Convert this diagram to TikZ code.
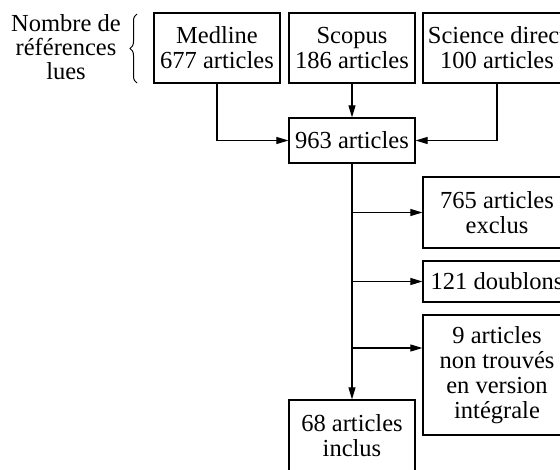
\documentclass[tikz,border=0pt]{standalone}
\usepackage{fontspec}
\setmainfont{Liberation Serif}
\usetikzlibrary{arrows.meta,decorations.pathreplacing}
\begin{document}
\begin{tikzpicture}[x=1pt,y=-1pt,
  box/.style={draw,line width=1.2pt,rectangle,inner sep=0pt,align=center,
    font=\fontsize{24.5}{25}\selectfont},
  arr/.style={line width=1.1pt,-{Triangle[length=12pt,width=7pt]}},
  ln/.style={line width=1.1pt}]
\useasboundingbox (0,0) rectangle (560,469);
\begin{scope}
\clip (0,0) rectangle (560,469);
\node[box,minimum width=126pt,minimum height=70pt] (medline) at (217,48) {Medline\\677 articles};
\node[box,minimum width=126pt,minimum height=70pt] (scopus) at (352,48) {Scopus\\186 articles};
\node[box,minimum width=148pt,minimum height=70pt] (science) at (497,48) {Science direct\\100 articles};
\node[box,minimum width=126pt,minimum height=45pt] (total) at (352,140.5) {963 articles};
\node[box,minimum width=148pt,minimum height=71pt] (excl) at (497,212.5) {765 articles\\exclus};
\node[box,minimum width=148pt,minimum height=41pt] (doub) at (497,281.5) {121 doublons};
\node[box,minimum width=148pt,minimum height=120pt] (nontr) at (497,375) {9 articles\\non trouvés\\en version\\intégrale};
\node[box,minimum width=126pt,minimum height=72pt] (incl) at (352,436) {68 articles\\inclus};
\node[align=center,font=\fontsize{24.5}{24}\selectfont] (label) at (66,47) {Nombre de\\références\\lues};
\draw[line width=1pt,decorate,decoration={brace,amplitude=7pt}] (137,83) -- (137,14);
\draw[arr] (medline.south) |- (total.west);
\draw[arr] (science.south) |- (total.east);
\draw[arr] (scopus.south) -- (total.north);
\draw[arr] (total.south) -- (incl.north);
\draw[arr] (total.south |- excl.west) -- (excl.west);
\draw[arr] (total.south |- doub.west) -- (doub.west);
\draw[arr] (total.south |- 0,348) -- (nontr.west |- 0,348);
\end{scope}
\end{tikzpicture}
\end{document}
